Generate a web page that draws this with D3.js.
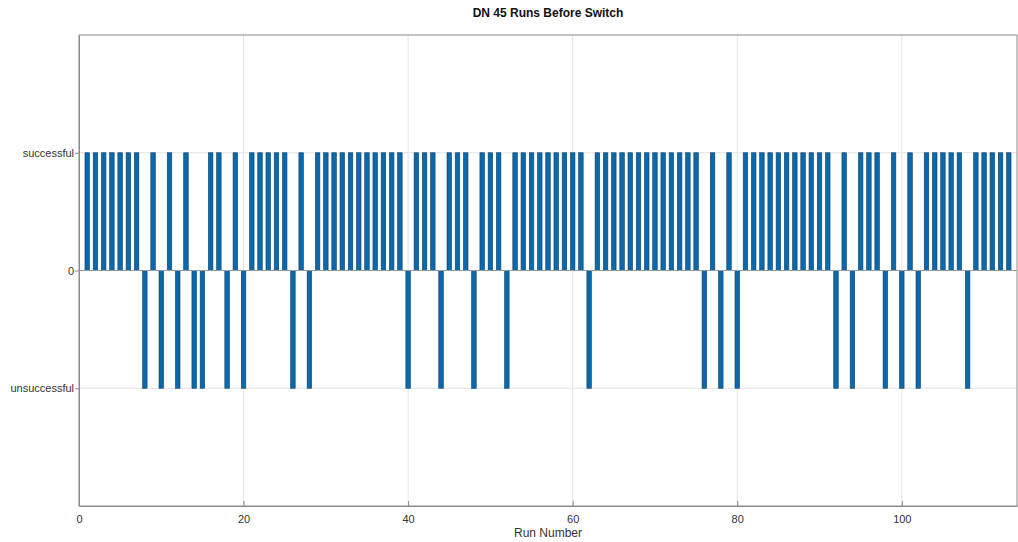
<!DOCTYPE html>
<html>
<head>
<meta charset="utf-8">
<script src="https://cdn.jsdelivr.net/npm/d3@7"></script>
<style>
  body { margin: 0; background: #fff; }
  svg { display: block; font-family: "Liberation Sans", Arial, sans-serif; }
</style>
</head>
<body>
<div id="chart"></div>
<script>
// resultado de cada corrida (1 = successful, -1 = unsuccessful)
const runs = d3.range(1, 114);
const outcome = [
  1, 1, 1, 1, 1, 1, 1, -1, 1, -1,
  1, -1, 1, -1, -1, 1, 1, -1, 1, -1,
  1, 1, 1, 1, 1, -1, 1, -1, 1, 1,
  1, 1, 1, 1, 1, 1, 1, 1, 1, -1,
  1, 1, 1, -1, 1, 1, 1, -1, 1, 1,
  1, -1, 1, 1, 1, 1, 1, 1, 1, 1,
  1, -1, 1, 1, 1, 1, 1, 1, 1, 1,
  1, 1, 1, 1, 1, -1, 1, -1, 1, -1,
  1, 1, 1, 1, 1, 1, 1, 1, 1, 1,
  1, -1, 1, -1, 1, 1, 1, -1, 1, -1,
  1, -1, 1, 1, 1, 1, 1, -1, 1, 1,
  1, 1, 1
];
const xTicks = [0, 20, 40, 60, 80, 100];
const yTicks = [-1, 0, 1];
const yTickLabels = ['unsuccessful', '0', 'successful'];

const width = 1018, height = 542;
const margin = { top: 35, right: 1, bottom: 36, left: 79 };
const innerW = width - margin.left - margin.right;
const innerH = height - margin.top - margin.bottom;

const svg = d3.select('#chart').append('svg')
  .attr('width', width)
  .attr('height', height);

const x = d3.scaleLinear().domain([0, 114]).range([0, innerW]);
const y = d3.scaleLinear().domain([-2, 2]).range([innerH, 0]);

const g = svg.append('g').attr('transform', `translate(${margin.left},${margin.top})`);

// grid
g.selectAll('.vgrid').data(xTicks.filter(d => d > 0)).enter().append('line')
  .attr('x1', d => x(d)).attr('x2', d => x(d))
  .attr('y1', 0).attr('y2', innerH)
  .attr('stroke', '#e3e3e3').attr('stroke-width', 1);
g.selectAll('.hgrid').data(yTicks).enter().append('line')
  .attr('x1', 0).attr('x2', innerW)
  .attr('y1', d => y(d)).attr('y2', d => y(d))
  .attr('stroke', '#e3e3e3').attr('stroke-width', 1);

// barras
const barW = x(0.55) - x(0);
g.selectAll('.bar').data(runs).enter().append('rect')
  .attr('x', (d, i) => x(d) - barW / 2)
  .attr('y', (d, i) => y(Math.max(0, outcome[i])))
  .attr('width', barW)
  .attr('height', (d, i) => Math.abs(y(outcome[i]) - y(0)))
  .attr('fill', '#0a69ad')
  .attr('stroke', '#0d3f66')
  .attr('stroke-width', 0.6);

// baseline
g.append('line')
  .attr('x1', 0).attr('x2', innerW)
  .attr('y1', y(0)).attr('y2', y(0))
  .attr('stroke', '#9a9a9a').attr('stroke-width', 1);

// caja
g.append('rect')
  .attr('x', 0).attr('y', 0)
  .attr('width', innerW).attr('height', innerH)
  .attr('fill', 'none')
  .attr('stroke', '#8a8a8a').attr('stroke-width', 1);

// ejes
const xAxis = g.append('g')
  .attr('transform', `translate(0,${innerH})`)
  .call(d3.axisBottom(x).tickValues(xTicks).tickSizeInner(-5).tickSizeOuter(0).tickPadding(9));
const yAxis = g.append('g')
  .call(d3.axisLeft(y).tickValues(yTicks)
    .tickFormat((d, i) => yTickLabels[i]).tickSize(4).tickSizeOuter(0).tickPadding(1));

[xAxis, yAxis].forEach(a => {
  a.select('.domain').attr('stroke', '#8a8a8a');
  a.selectAll('.tick line').attr('stroke', '#8a8a8a');
  a.selectAll('.tick text')
    .attr('fill', '#333')
    .attr('font-size', 11)
    .attr('font-family', '"Liberation Sans", Arial, sans-serif');
});

// titulo y etiqueta
svg.append('text')
  .attr('x', margin.left + innerW / 2)
  .attr('y', 17)
  .attr('text-anchor', 'middle')
  .attr('font-size', 12)
  .attr('font-weight', 700)
  .attr('fill', '#111')
  .text('DN 45 Runs Before Switch');

svg.append('text')
  .attr('x', margin.left + innerW / 2)
  .attr('y', 537)
  .attr('text-anchor', 'middle')
  .attr('font-size', 12)
  .attr('fill', '#333')
  .text('Run Number');
</script>
</body>
</html>
